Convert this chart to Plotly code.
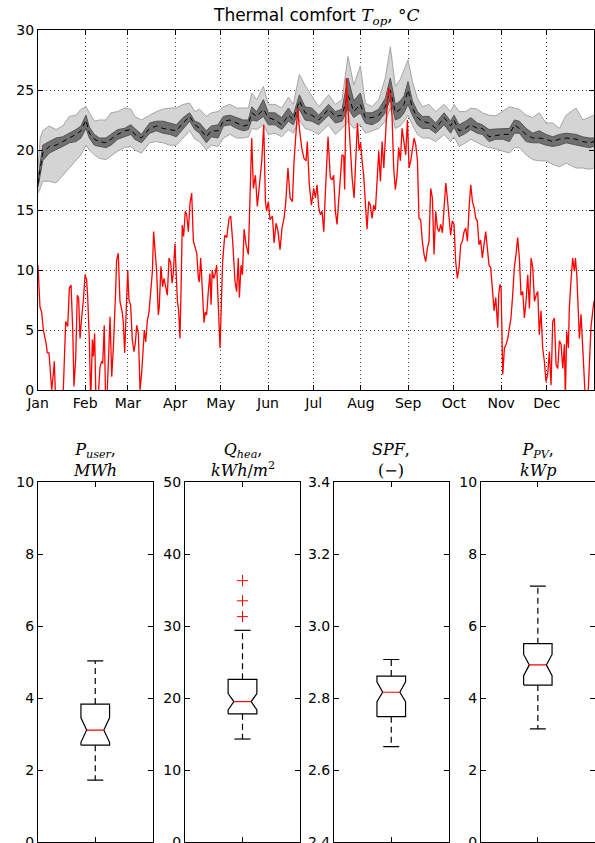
import plotly.graph_objects as go

# ---------------- data: top panel ----------------
month_days = [0, 31, 59, 90, 120, 151, 181, 212, 243, 273, 304, 334]
month_labels = ["Jan", "Feb", "Mar", "Apr", "May", "Jun", "Jul", "Aug", "Sep", "Oct", "Nov", "Dec"]

# outdoor temperature (red line): day of year, value
t_days = [0, 1.3, 2.4, 3.5, 5.3, 6.1, 7.2, 8.3, 9.0, 10.1, 10.7, 11.6, 13.3, 15.5, 16.6, 18.2, 19.5, 20.6, 21.7, 22.8,
          23.6, 24.7, 25.8, 26.7, 27.6, 28.7, 29.8, 30.9, 31.9, 32.6, 33.7, 34.6, 35.7, 36.3, 37.2, 37.9, 38.5, 39.8,
          40.7, 41.8, 42.5, 43.5, 44.4, 45.5, 47.3, 48.4, 49.5, 51.0, 51.6, 52.7, 53.8, 55.4, 56.0, 56.9, 57.8, 58.9,
          59.7, 60.8, 61.9, 63.0, 63.9, 64.8, 65.9, 67.0, 68.1, 69.1, 69.8, 70.7, 71.8, 72.9, 74.0, 75.1, 75.9, 77.0,
          77.9, 79.0, 79.6, 80.7, 81.8, 82.7, 83.6, 84.9, 86.0, 87.1, 88.0, 88.8, 89.9, 90.6, 91.5, 92.3, 93.2, 93.9,
          94.7, 95.6, 96.7, 97.6, 98.7, 99.8, 100.9, 102.0, 103.1, 104.2, 105.3, 105.9, 106.8, 107.9, 109.0, 109.8,
          110.7, 111.8, 112.9, 113.6, 114.4, 115.3, 116.2, 117.3, 118.4, 119.5,
          121.2, 122.6, 123.9, 125.4, 126.5, 127.8, 129.3, 130.4, 131.5, 132.2, 133.3, 134.2, 135.3, 136.6, 138.1,
          139.2, 140.3, 141.4, 142.7, 144.0, 145.3, 146.9, 148.2, 149.3, 150.1, 151.2, 152.3, 153.9, 155.0, 156.3,
          157.6, 158.9, 160.2, 161.5, 162.6, 164.1, 165.5, 167.0, 168.1, 169.4, 170.5, 171.6, 173.1, 174.6, 176.0,
          176.8, 178.1, 179.5,
          181.0, 182.1, 183.2, 184.3, 185.4, 186.5, 187.6, 188.7, 189.7, 190.4, 191.9, 193.0, 194.1, 195.2, 196.3,
          197.4, 198.5, 199.6, 200.7, 201.3, 202.4, 203.5, 204.6, 206.2, 207.5, 208.6, 209.7, 210.8, 211.8, 212.7,
          213.8, 214.9, 216.0, 217.1, 218.2, 219.3, 220.4, 221.5, 222.6, 223.7, 224.8, 225.9, 227.0, 228.0, 229.1,
          230.2, 231.3, 232.4, 233.5, 234.6, 235.7, 236.8, 237.9, 239.0, 240.1,
          241.4, 242.5, 243.6, 244.7, 245.8, 246.9, 248.0, 249.1, 250.1, 251.2, 252.3, 253.4, 254.5, 255.6, 256.7,
          257.8, 258.9, 260.0, 261.1, 262.2, 263.3, 264.4, 265.5, 266.6, 267.7, 268.7, 269.8, 270.9, 272.0, 273.1,
          274.2, 275.3, 276.4, 277.5, 278.6, 279.7, 280.8, 281.9, 283.0, 284.1, 285.2, 286.3, 287.4, 288.4, 289.5,
          290.6, 291.7, 292.8, 293.9, 295.0, 296.1, 297.2, 298.3, 299.4, 300.5,
          301.8, 302.5, 303.3, 304.0, 305.1, 306.2, 307.3, 308.4, 309.5, 310.5, 311.6, 312.7, 313.8, 314.9, 316.0,
          317.1, 318.2, 319.3, 320.4, 321.5, 322.6, 323.7, 324.8, 325.9, 327.0, 328.1, 329.1, 330.2, 331.3, 332.4,
          333.5, 334.6, 335.7, 336.8, 337.9, 339.0, 340.1, 341.2, 342.3, 343.4, 344.5, 345.6, 346.2, 347.1, 348.2,
          348.8, 349.9, 351.0, 352.1, 352.8, 353.7, 354.3, 355.4, 356.5, 357.6, 358.7, 359.8, 360.9, 362.0, 363.0,
          364.2, 365.0]
t_out = [10.4, 6.9, 6.5, 5.0, 3.9, 3.1, 3.1, 1.25, 0, 1.4, 2.4, -1, -3, -1, 0, 5.7, 5.3, 8.5, 8.75, 5.0,
         0.3, 2.5, 7.9, 7.6, 4.3, 6.1, 7.5, 9.6, 9.2, 7.8, 4.2, -1, 4.2, 2.8, 4.7, 0, -1.5, 0,
         1.9, 2.4, 2.2, 5.4, -1, 0, 6.1, 1.1, 3.6, 8.3, 10.8, 11.4, 7.4, 6.4, 5.6, 3.1, 6.1, 10.0,
         7.5, 7.1, 4.2, 3.2, 3.9, 5.4, 4.7, 0, 1.5, 3.3, 5.0, 4.0, 5.8, 6.5, 8.3, 9.9, 13.2, 11.4,
         9.9, 6.25, 6.9, 10.3, 8.6, 9.3, 8.75, 7.9, 11.0, 10.6, 8.9, 9.7, 12.2, 10.0, 7.4, 6.7, 4.3, 8.3,
         13.75, 12.8, 14.9, 14.6, 13.2, 15.6, 16.4, 12.4, 11.8, 11.4, 9.3, 9.0, 11.0, 7.8, 5.6, 6.5,
         6.25, 8.2, 9.7, 7.1, 10.0, 9.3, 9.6, 10.4, 7.2, 3.5,
         10.7, 12.9, 12.7, 14.3, 14.5, 12.4, 9.1, 8.2, 11.0, 7.7, 10.4, 9.6, 13.4, 12.1, 11.3,
         16.3, 21.0, 16.8, 17.9, 15.3, 16.8, 19.1, 22.1, 15.7, 14.9, 15.7, 14.2, 14.5, 12.25, 13.9,
         13.2, 11.7, 13.5, 14.3, 15.6, 18.5, 16.0, 15.7, 19.1, 21.8, 23.5, 21.8, 20.2, 19.3, 19.1,
         20.7, 17.1, 15.4,
         16.8, 16.0, 17.1, 15.2, 14.6, 14.9, 13.2, 16.6, 19.6, 21.1, 17.7, 17.5, 17.9, 14.9, 13.8,
         15.4, 17.7, 19.6, 19.5, 16.7, 26.0, 23.5, 21.0, 17.7, 16.0, 19.6, 22.25, 20.0, 20.6, 19.2,
         17.9, 15.6, 13.4, 15.7, 15.4, 14.3, 15.4, 15.0, 17.7, 19.9, 17.4, 20.7, 18.5, 21.6, 23.5,
         25.2, 24.6, 22.9, 18.5, 16.7, 17.9, 20.2, 19.1, 21.8, 20.7,
         19.6, 22.5, 18.5, 19.1, 19.9, 21.0, 20.4, 19.1, 14.3, 14.2, 12.4, 11.3, 10.7, 11.8, 12.4,
         16.8, 16.0, 11.3, 14.9, 13.5, 13.2, 13.8, 13.1, 15.2, 17.25, 16.0, 14.6, 12.9, 14.1, 13.8,
         10.7, 9.3, 10.2, 12.1, 12.4, 13.2, 13.5, 12.4, 15.2, 17.1, 15.7, 15.2, 14.3, 14.1, 12.1,
         12.5, 11.0, 12.4, 13.2, 11.8, 10.4, 10.2, 8.2, 6.6, 7.7,
         5.2, 8.0, 8.8, 8.5, 1.3, 3.5, 3.8, 4.3, 5.4, 6.0, 7.9, 10.2, 11.3, 12.7, 11.0,
         7.9, 8.2, 6.0, 7.4, 9.6, 6.8, 11.0, 10.2, 7.4, 7.9, 8.2, 4.6, 6.6, 3.5, 2.4,
         0.7, 1.3, 3.2, 0.4, 5.7, 6.0, 2.1, 1.8, 4.1, 3.8, 1.8, 3.8, -0.7, 4.9, 3.5,
         6.8, 9.1, 11.0, 9.9, 11.0, 9.6, 7.7, 4.3, 6.3, 2.7, -1, -2, -1, 2.4, 5.2,
         6.6, 7.4]

# indoor operative temperature bands
band_days = [0, 1.5, 3.1, 7.4, 11.8, 16.2, 20.6, 24.9, 28.2, 31.5, 33.7, 37, 40.3, 44.6, 47.9, 52.3, 56.7, 61,
             63.5, 67.9, 73.3, 77.7, 82.1, 86.5, 90.8, 95.2, 99.6, 102.9, 106.1, 110.5, 113.8, 118.2, 121.7,
             126.1, 130.4, 134.8, 138.1, 140.3, 143.6, 148, 151.2, 155.6, 160, 164.4, 167.6, 171.6, 175.3,
             179.7, 184.3, 190.8, 195.2, 199.6, 203.5, 207.3, 211.6, 214.9, 219.3, 223.7, 228, 231.3, 234.6,
             237.9, 240.3, 242.9, 245.8, 249.1, 252.3, 256.7, 261.1, 266.6, 270.9, 273.1, 276.4, 280.8, 284.1,
             288.4, 291.7, 296.1, 300.5, 305.1, 309.5, 312.7, 316, 320.4, 324.8, 329.1, 333.5, 337.9, 342.3,
             346.7, 353.2, 357.6, 362, 365]
t_min = [16.4, 16.8, 17.4, 17.4, 17.25, 17.9, 18.5, 19.2, 19.6, 20.4, 20.0, 19.6, 19.3, 19.2, 19.5, 19.9, 20.2, 20.3,
         20.0, 19.75, 20.6, 20.7, 20.6, 20.4, 20.4, 21.0, 21.6, 20.9, 20.7, 20.0, 20.4, 20.3, 21.0,
         21.3, 21.0, 21.0, 21.1, 21.8, 21.7, 22.1, 21.3, 21.4, 21.1, 21.7, 21.4, 22.5, 21.8,
         21.6, 21.3, 22.1, 21.3, 21.8, 22.4, 21.8, 22.1, 21.4, 21.6, 21.8, 22.4, 23.5, 21.8,
         22.0, 22.4, 22.9, 22.1, 21.3, 21.0, 21.0, 20.7, 21.3, 20.7, 21.1, 20.3, 20.6, 20.9,
         20.6, 20.4, 20.2, 20.1, 19.9, 19.75, 20.2, 20.2, 19.6, 19.2, 19.1, 19.1, 18.8, 18.6,
         18.9, 18.5, 18.5, 18.4, 18.5]
t_q25 = [16.9, 18.0, 19.1, 19.75, 20.0, 20.3, 20.6, 20.7, 21.0, 21.8, 21.0, 20.4, 20.3, 20.2, 20.4, 20.9, 21.1, 21.3,
         20.9, 20.6, 21.4, 21.6, 21.4, 21.3, 21.1, 21.8, 22.4, 21.7, 21.4, 20.6, 21.1, 21.0, 22.0,
         22.1, 21.8, 21.6, 21.7, 22.5, 22.4, 22.8, 22.1, 22.1, 21.7, 22.4, 22.1, 23.4, 22.5,
         22.4, 22.1, 22.9, 22.25, 22.4, 23.5, 22.7, 23.1, 22.25, 22.1, 22.4, 23.1, 24.3, 22.5,
         22.7, 23.1, 23.8, 22.9, 22.1, 21.8, 21.8, 21.4, 22.1, 21.4, 21.9, 21.1, 21.4, 21.7,
         21.4, 21.3, 20.7, 20.9, 20.9, 20.7, 21.4, 21.4, 20.7, 20.6, 20.6, 20.4, 20.3, 20.4,
         20.6, 20.4, 20.3, 20.2, 20.3]
t_med = [17.2, 18.4, 19.75, 20.3, 20.4, 20.7, 21.0, 21.3, 21.6, 22.5, 21.4, 20.9, 20.7, 20.6, 20.9, 21.3, 21.6, 21.7,
         21.3, 21.0, 21.8, 22.0, 21.8, 21.7, 21.6, 22.25, 22.8, 22.1, 21.8, 21.1, 21.6, 21.6, 22.4,
         22.5, 22.25, 22.0, 22.1, 23.1, 22.8, 23.4, 22.7, 22.5, 22.1, 22.9, 22.5, 24.1, 23.1,
         22.9, 22.5, 23.4, 22.8, 22.9, 24.6, 23.2, 23.8, 22.7, 22.7, 22.9, 23.6, 25.0, 23.1,
         23.4, 23.8, 25.0, 23.5, 22.7, 22.4, 22.25, 21.8, 22.7, 22.0, 22.5, 21.6, 21.8, 22.1,
         21.8, 21.8, 21.1, 21.2, 21.3, 21.3, 22.1, 21.8, 21.3, 21.0, 21.0, 20.9, 20.7, 20.9,
         21.0, 20.9, 20.7, 20.6, 20.7]
t_q75 = [17.6, 19.0, 20.4, 20.7, 21.0, 21.1, 21.4, 21.7, 22.0, 22.9, 21.9, 21.3, 21.0, 21.0, 21.3, 21.7, 21.8, 22.1,
         21.8, 21.3, 22.25, 22.4, 22.4, 22.25, 22.1, 22.7, 23.1, 22.4, 22.25, 21.6, 22.0, 22.1, 22.8,
         22.9, 22.7, 22.5, 22.5, 23.6, 23.2, 24.2, 23.1, 23.1, 22.7, 23.5, 22.9, 24.6, 23.6,
         23.5, 22.9, 23.8, 23.2, 23.4, 26.0, 24.1, 24.75, 23.1, 23.1, 23.4, 24.3, 26.0, 23.8,
         24.1, 24.5, 25.7, 24.1, 23.2, 22.8, 22.8, 22.25, 23.1, 22.4, 22.9, 22.1, 22.4, 22.7,
         22.25, 22.1, 21.7, 21.75, 21.8, 21.8, 22.5, 22.4, 21.8, 21.4, 21.6, 21.3, 21.1, 21.3,
         21.4, 21.3, 21.1, 21.0, 21.0]
t_max = [18.5, 21.0, 21.6, 22.0, 21.7, 22.0, 22.8, 22.9, 23.4, 23.6, 23.1, 22.4, 22.5, 22.5, 23.1, 23.2, 23.5, 23.4,
         22.8, 22.5, 22.9, 23.2, 23.4, 23.5, 23.5, 23.8, 23.9, 23.2, 23.4, 22.8, 23.1, 23.2, 23.6,
         23.8, 23.5, 23.5, 23.5, 24.75, 24.2, 25.3, 23.8, 23.8, 23.5, 24.4, 23.8, 26.3, 25.4,
         24.5, 23.6, 24.6, 23.8, 24.2, 27.8, 25.4, 27.0, 23.9, 23.6, 24.2, 26.0, 28.6, 25.3,
         25.9, 26.6, 27.5, 25.7, 24.3, 23.6, 23.8, 23.2, 23.8, 23.2, 23.8, 23.2, 23.2, 23.5,
         23.4, 23.1, 22.9, 22.85, 23.2, 23.6, 23.5, 23.4, 22.9, 22.7, 23.1, 22.25, 22.25, 21.8,
         22.9, 23.5, 22.5, 22.7, 22.9]

# ---------------- data: box plots ----------------
box_titles = ["<i>P</i><sub><i>user</i></sub>,<br><i>MWh</i>",
              "<i>Q</i><sub><i>hea</i></sub>,<br><i>kWh</i>/<i>m</i><sup>2</sup>",
              "<i>SPF</i>,<br>(\u2212)",
              "<i>P</i><sub><i>PV</i></sub>,<br><i>kWp</i>"]
box_low = [1.72, 14.3, 2.665, 3.14]
box_q1 = [2.69, 17.8, 2.748, 4.36]
box_med = [3.11, 19.5, 2.816, 4.92]
box_q3 = [3.83, 22.6, 2.861, 5.51]
box_high = [5.03, 29.4, 2.907, 7.11]
notch_low = [2.77, 18.35, 2.79, 4.62]
notch_high = [3.45, 20.6, 2.845, 5.21]
box_outliers = [[], [31.3, 33.5, 36.3], [], []]
box_yranges = [[0, 10], [0, 50], [2.4, 3.4], [0, 10]]
box_dticks = [2, 10, 0.2, 2]
box_tickformats = ["d", "d", ".1f", "d"]

# ---------------- figure ----------------
W, H = 595, 843
fig = go.Figure()

tickfont = dict(family="DejaVu Sans", size=14, color="black")
serif = "DejaVu Serif"

# light band (min-max)
fig.add_trace(go.Scatter(x=band_days, y=t_min, mode="lines", line=dict(color="rgb(165,165,165)", width=1),
                         showlegend=False, hoverinfo="skip", xaxis="x", yaxis="y"))
fig.add_trace(go.Scatter(x=band_days, y=t_max, mode="lines", line=dict(color="rgb(165,165,165)", width=1),
                         fill="tonexty", fillcolor="rgb(212,212,212)", showlegend=False, hoverinfo="skip",
                         xaxis="x", yaxis="y"))
# dark band (quartiles)
fig.add_trace(go.Scatter(x=band_days, y=t_q25, mode="lines", line=dict(color="rgb(85,85,85)", width=1),
                         showlegend=False, hoverinfo="skip", xaxis="x", yaxis="y"))
fig.add_trace(go.Scatter(x=band_days, y=t_q75, mode="lines", line=dict(color="rgb(85,85,85)", width=1),
                         fill="tonexty", fillcolor="rgb(112,112,112)", showlegend=False, hoverinfo="skip",
                         xaxis="x", yaxis="y"))
fig.add_trace(go.Scatter(x=band_days, y=t_med, mode="lines", line=dict(color="black", width=1, dash="5px,4px"),
                         showlegend=False, hoverinfo="skip", xaxis="x", yaxis="y"))
# outdoor temperature
fig.add_trace(go.Scatter(x=t_days, y=t_out, mode="lines", line=dict(color="red", width=1.3),
                         showlegend=False, hoverinfo="skip", xaxis="x", yaxis="y"))

# box plots
c, hw, nw, cw = 1.0, 0.125, 0.075, 0.07
for i in range(4):
    xa, ya = f"x{i+2}", f"y{i+2}"
    q1, md, q3 = box_q1[i], box_med[i], box_q3[i]
    nl, nh = notch_low[i], notch_high[i]
    fig.add_trace(go.Scatter(
        x=[c - hw, c - hw, c - nw, c - hw, c - hw, c + hw, c + hw, c + nw, c + hw, c + hw, c - hw],
        y=[q1, nl, md, nh, q3, q3, nh, md, nl, q1, q1],
        mode="lines", line=dict(color="black", width=1.2), showlegend=False, hoverinfo="skip",
        xaxis=xa, yaxis=ya))
    fig.add_trace(go.Scatter(
        x=[c, c, None, c, c], y=[q3, box_high[i], None, q1, box_low[i]],
        mode="lines", line=dict(color="black", width=1.2, dash="6px,4px"), showlegend=False,
        hoverinfo="skip", xaxis=xa, yaxis=ya))
    fig.add_trace(go.Scatter(
        x=[c - cw, c + cw, None, c - cw, c + cw], y=[box_high[i], box_high[i], None, box_low[i], box_low[i]],
        mode="lines", line=dict(color="black", width=1.2), showlegend=False, hoverinfo="skip",
        xaxis=xa, yaxis=ya))
    fig.add_trace(go.Scatter(
        x=[c - nw, c + nw], y=[md, md], mode="lines", line=dict(color="red", width=1.2),
        showlegend=False, hoverinfo="skip", xaxis=xa, yaxis=ya))
    if box_outliers[i]:
        fig.add_trace(go.Scatter(
            x=[c] * len(box_outliers[i]), y=box_outliers[i], mode="markers",
            marker=dict(symbol="cross-thin", size=8, line=dict(color="red", width=1)),
            showlegend=False, hoverinfo="skip", xaxis=xa, yaxis=ya))

common = dict(showline=True, linecolor="black", linewidth=1, mirror="ticks", ticks="inside",
              ticklen=5, tickcolor="black", tickwidth=1, zeroline=False, tickfont=tickfont,
              automargin=False)

top_dom_x = [38 / W, 594 / W]
top_dom_y = [1 - 390 / H, 1 - 30 / H]
layout = dict(
    width=W, height=H, margin=dict(l=0, r=0, t=0, b=0, autoexpand=False),
    paper_bgcolor="white", plot_bgcolor="white",
    xaxis=dict(domain=top_dom_x, range=[0, 365], tickvals=month_days, ticktext=month_labels,
               showgrid=True, gridcolor="rgba(0,0,0,0.75)", griddash="1px,3px", gridwidth=1,
               anchor="y", **common),
    yaxis=dict(domain=top_dom_y, range=[0, 30], dtick=5, tick0=0,
               showgrid=True, gridcolor="rgba(0,0,0,0.75)", griddash="1px,3px", gridwidth=1,
               anchor="x", **common),
)

box_x_doms = [[38 / W, 152.5 / W], [185 / W, 300 / W], [334 / W, 448.5 / W], [481 / W, 0.9995]]
box_dom_y = [1 - 842 / H, 1 - 482 / H]
for i in range(4):
    layout[f"xaxis{i+2}"] = dict(domain=box_x_doms[i], range=[0.5, 1.5], tickvals=[1], showticklabels=False,
                                 showgrid=False, anchor=f"y{i+2}", **common)
    layout[f"yaxis{i+2}"] = dict(domain=box_dom_y, range=box_yranges[i], dtick=box_dticks[i],
                                 tick0=box_yranges[i][0], tickformat=box_tickformats[i],
                                 ticklabeloverflow="allow",
                                 showgrid=False, anchor=f"x{i+2}", **common)

annotations = [dict(
    text="Thermal comfort <span style='font-family:DejaVu Serif'><i>T</i><sub><i>op</i></sub>, \u00b0<i>C</i></span>",
    x=(top_dom_x[0] + top_dom_x[1]) / 2, y=top_dom_y[1], xref="paper", yref="paper",
    xanchor="center", yanchor="bottom", yshift=0, showarrow=False,
    font=dict(family="DejaVu Sans", size=17, color="black"))]
for i in range(4):
    annotations.append(dict(
        text=box_titles[i], x=(box_x_doms[i][0] + box_x_doms[i][1]) / 2, y=box_dom_y[1],
        xref="paper", yref="paper", xanchor="center", yanchor="bottom", yshift=0, showarrow=False,
        font=dict(family=serif, size=16, color="black")))
layout["annotations"] = annotations

fig.update_layout(**layout)
fig.write_html("out.html")
